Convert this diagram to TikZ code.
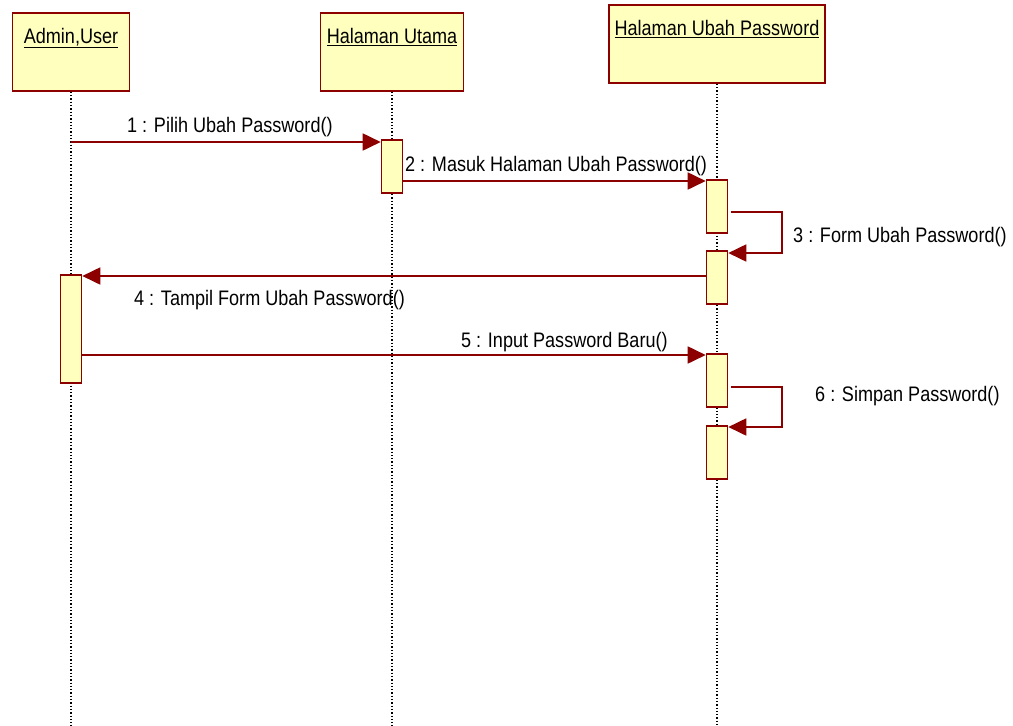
\documentclass[tikz,border=0pt]{standalone}
\usepackage{fontspec}
\setmainfont{Liberation Sans}[FakeStretch=0.86]
\usetikzlibrary{positioning,arrows.meta}
\definecolor{umlfill}{RGB}{255,255,190}
\definecolor{umlred}{RGB}{140,0,0}
\tikzset{
  obj/.style={draw=umlred,fill=umlfill,line width=1.6pt,minimum width=#1,minimum height=78pt,inner sep=0pt},
  obj/.default=117pt,
  act/.style={draw=umlred,fill=umlfill,line width=1.6pt,minimum width=21pt,minimum height=#1,inner sep=0pt},
  act/.default=53pt,
  life/.style={line width=1.3pt,dash pattern=on 1.3pt off 2pt},
  msg/.style={umlred,line width=1.8pt,-{Triangle[length=18pt,width=17pt]}},
  lab/.style={font=\fontsize{21}{25}\selectfont,inner sep=0pt}
}
\begin{document}
\begin{tikzpicture}[x=1pt,y=-1pt]
  \useasboundingbox (0,0) rectangle (1013,726);
  % objects and lifelines
  \node[obj=117pt] (user) at (71,52) {};
  \node[obj=143pt] (utama) at (392,52) {};
  \node[obj=216pt] (ubah) at (717,44) {};
  \node[lab,anchor=base] at ([yshift=-31pt]user.north) {\underline{Admin,User}};
  \node[lab,anchor=base] at ([yshift=-31pt]utama.north) {\underline{Halaman Utama}};
  \node[lab,anchor=base] at ([yshift=-31pt]ubah.north) {\underline{Halaman Ubah Password}};
  \draw[life] (user.south) -- (user.south |- 0,726);
  \draw[life] (utama.south) -- (utama.south |- 0,726);
  \draw[life] (ubah.south) -- (ubah.south |- 0,726);
  % activations
  \node[act] (t1) at (392,166.5) {};
  \node[act] (p1) at (717,206.5) {}; \node[act] (p2) at (717,277.5) {};
  \node[act] (p3) at (717,380.5) {}; \node[act] (p4) at (717,452.5) {};
  \node[act=108pt] (a1) at (71,329) {};
  % messages
  \draw[msg] (user.south |- 0,142) -- (t1.west |- 0,142);
  \draw[msg] (t1.east |- 0,181) -- (p1.west |- 0,181);
  \draw[msg] (p1.east |- 0,212) ++(3,0) -- ++(51,0) |- (p2.east |- 0,253);
  \draw[msg] (p2.west |- 0,276) -- (a1.east |- 0,276);
  \draw[msg] (a1.east |- 0,355) -- (p3.west |- 0,355);
  \draw[msg] (p3.east |- 0,387) ++(3,0) -- ++(51,0) |- (p4.east |- 0,427);
  \node[lab,anchor=base west] (l1) at (127,132) {1 : Pilih Ubah Password()};
  \node[lab,anchor=base west] (l2) at (405,171) {2 : Masuk Halaman Ubah Password()};
  \node[lab,anchor=base west] (l3) at (793,242) {3 : Form Ubah Password()};
  \node[lab,anchor=base west] (l4) at (134,305) {4 : Tampil Form Ubah Password()};
  \node[lab,anchor=base west] (l5) at (461,347) {5 : Input Password Baru()};
  \node[lab,anchor=base west] (l6) at (815,401) {6 : Simpan Password()};
\end{tikzpicture}
\end{document}
